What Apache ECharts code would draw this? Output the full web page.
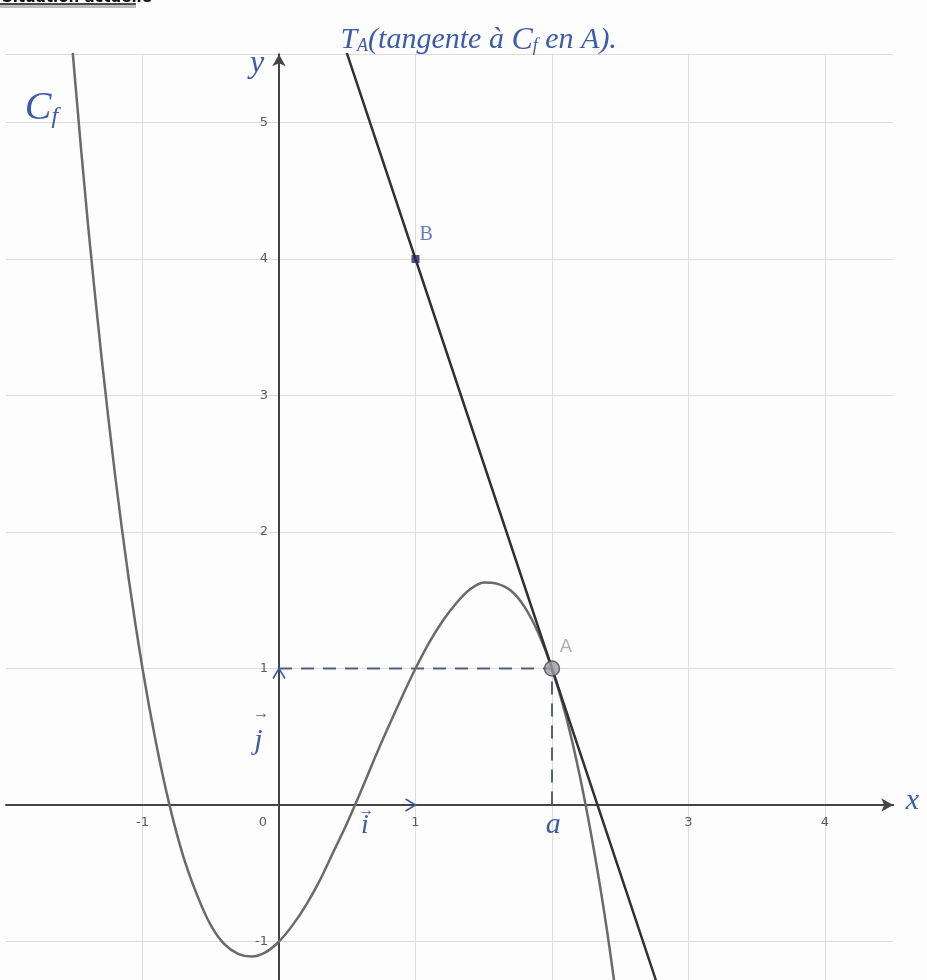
<!DOCTYPE html>
<html>
<head>
<meta charset="utf-8">
<script src="https://cdn.jsdelivr.net/npm/echarts@6/dist/echarts.min.js"></script>
<style>
  html, body { margin: 0; padding: 0; background: #fdfdfd; }
  #main { width: 927px; height: 980px; }
</style>
</head>
<body>
<div id="main"></div>
<script>
// courbe Cf (x, y)
var curveX = [-1.6, -1.5, -1.4, -1.3, -1.2, -1.1, -1.0, -0.9, -0.8, -0.7, -0.6, -0.5, -0.4, -0.3, -0.2, -0.1,
  0, 0.1, 0.2, 0.3, 0.4, 0.5, 0.6, 0.7, 0.8, 0.9, 1.0, 1.1, 1.2, 1.3, 1.4, 1.5, 1.6, 1.7, 1.8, 1.9,
  2.0, 2.1, 2.2, 2.3, 2.4, 2.5, 2.6];
var curveY = [6.62, 5.38, 4.26, 3.28, 2.41, 1.65, 1.0, 0.45, -0.01, -0.38, -0.66, -0.88, -1.02, -1.09, -1.11, -1.08,
  -1.0, -0.88, -0.73, -0.55, -0.34, -0.13, 0.10, 0.34, 0.57, 0.79, 1.0, 1.19, 1.35, 1.48, 1.58, 1.63, 1.62, 1.57, 1.45, 1.26,
  1.0, 0.66, 0.23, -0.29, -0.90, -1.63, -2.46];
// tangente TA
var tangentX = [0.3, 1, 2, 3];
var tangentY = [6.1, 4, 1, -2];
var pointA = [2, 1];
var pointB = [1, 4];
// graduations écrites (2 est remplacé par "a")
var xLabels = [-1, 0, 1, 3, 4];
var yLabels = [-1, 1, 2, 3, 4, 5];

var ink = '#3d5ba6';
var unit = 136.5;

function zip(xs, ys) {
  var out = [];
  for (var i = 0; i < xs.length; i++) out.push([xs[i], ys[i]]);
  return out;
}

var chart = echarts.init(document.getElementById('main'));

var option = {
  backgroundColor: '#fdfdfd',
  animation: false,
  grid: {
    left: 279 - 2 * unit,
    top: 805 - 5.5 * unit,
    width: 6.5 * unit,
    height: 7.5 * unit,
    outerBoundsMode: 'none',
    containLabel: false
  },
  xAxis: {
    type: 'value',
    min: -2,
    max: 4.5,
    interval: 1,
    axisLine: {
      onZero: true,
      symbol: ['none', 'arrow'],
      symbolSize: [10, 12],
      lineStyle: { color: '#444', width: 2 }
    },
    axisTick: { show: false },
    axisLabel: { show: false },
    splitLine: { show: true, showMinLine: false, showMaxLine: false, lineStyle: { color: '#dcdcdc', width: 1 } }
  },
  yAxis: {
    type: 'value',
    min: -2,
    max: 5.5,
    interval: 1,
    axisLine: {
      onZero: true,
      symbol: ['none', 'arrow'],
      symbolSize: [10, 12],
      lineStyle: { color: '#444', width: 2 }
    },
    axisTick: { show: false },
    axisLabel: { show: false },
    splitLine: { show: true, lineStyle: { color: '#dcdcdc', width: 1 } }
  },
  series: [
    {
      name: 'Cf',
      type: 'line',
      data: zip(curveX, curveY),
      smooth: 0.3,
      showSymbol: false,
      lineStyle: { color: '#6a6a6a', width: 2.5 },
      z: 3
    },
    {
      name: 'TA',
      type: 'line',
      data: zip(tangentX, tangentY),
      showSymbol: false,
      lineStyle: { color: '#333', width: 2.5 },
      z: 4
    },
    {
      name: 'pointilles',
      type: 'line',
      data: [[0, pointA[1]], pointA, [pointA[0], 0]],
      showSymbol: false,
      lineStyle: { color: '#55607a', width: 2, type: [13, 9] },
      z: 2
    },
    {
      name: 'A',
      type: 'scatter',
      data: [pointA],
      symbol: 'circle',
      symbolSize: 15,
      itemStyle: { color: '#9c9ea4', borderColor: '#4a4a4a', borderWidth: 1.5 },
      label: {
        show: true,
        formatter: 'A',
        position: [16, -22],
        color: '#9a9a9a',
        fontSize: 18,
        fontFamily: 'DejaVu Sans'
      },
      z: 6
    },
    {
      name: 'B',
      type: 'scatter',
      data: [pointB],
      symbol: 'rect',
      symbolSize: 8,
      itemStyle: { color: '#1f2a5c' },
      label: {
        show: true,
        formatter: 'B',
        position: [8, -30],
        color: ink,
        fontSize: 20,
        fontFamily: 'Liberation Serif'
      },
      z: 6
    }
  ]
};

chart.setOption(option);

function px(x, y) {
  return chart.convertToPixel({ gridIndex: 0 }, [x, y]);
}

function txt(x, y, text, size, extra) {
  var p = px(x, y);
  var style = {
    text: text,
    fill: ink,
    fontSize: size,
    fontFamily: 'Liberation Serif',
    fontStyle: 'italic',
    align: 'center',
    verticalAlign: 'middle',
    textAlign: 'center',
    textVerticalAlign: 'middle'
  };
  for (var k in extra) style[k] = extra[k];
  return { type: 'text', x: p[0], y: p[1], z: 20, style: style };
}

function tickText(p, text, align) {
  return {
    type: 'text', x: p[0], y: p[1], z: 15,
    style: {
      text: text, fill: '#5a5a5a', fontSize: 13, fontFamily: 'DejaVu Sans',
      align: align, verticalAlign: 'middle', textAlign: align, textVerticalAlign: 'middle'
    }
  };
}

var graphics = [];

// graduations des axes
xLabels.forEach(function (v) {
  var p = px(v, 0);
  var dx = v === 0 ? -16 : 0;
  graphics.push(tickText([p[0] + dx, p[1] + 18], String(v), 'center'));
});
yLabels.forEach(function (v) {
  var p = px(0, v);
  graphics.push(tickText([p[0] - 11, p[1]], String(v), 'right'));
});

var pi = px(1, 0), pj = px(0, 1);
graphics = graphics.concat([
  // titre coupé en haut
  { type: 'text', x: 2, y: -9, z: 20,
    style: { text: 'Situation actuelle', fill: '#111', fontSize: 15, fontWeight: 'bold', fontFamily: 'DejaVu Sans',
      verticalAlign: 'top', textVerticalAlign: 'top' } },
  { type: 'rect', shape: { x: 0, y: 5, width: 136, height: 3 }, style: { fill: '#bdbdbd' }, z: 19 },
  { type: 'line', shape: { x1: 0, y1: 4, x2: 136, y2: 4 }, style: { stroke: '#111', lineWidth: 1.5 }, z: 20 },
  txt(-0.16, 5.43, 'y', 32),
  txt(4.64, 0.03, 'x', 30),
  txt(-1.74, 5.1, '{c|C}{s|f}', 36, {
    rich: {
      c: { fontSize: 40, fontStyle: 'italic', fontFamily: 'Liberation Serif', fill: ink },
      s: { fontSize: 24, fontStyle: 'italic', fontFamily: 'Liberation Serif', fill: ink, padding: [16, 0, 0, 0] }
    }
  }),
  txt(0.45, 5.6, '{t|T}{s|A}{t|(tangente à }{c|C}{s|f}{t| en A).}', 30, {
    align: 'left', textAlign: 'left',
    rich: {
      t: { fontSize: 30, fontStyle: 'italic', fontFamily: 'Liberation Serif', fill: ink },
      c: { fontSize: 32, fontStyle: 'italic', fontFamily: 'Liberation Serif', fill: ink },
      s: { fontSize: 18, fontStyle: 'italic', fontFamily: 'Liberation Serif', fill: ink, padding: [12, 0, 0, 0] }
    }
  }),
  txt(2.01, -0.15, 'a', 30),
  txt(0.63, -0.15, 'i', 28),
  txt(0.64, -0.04, '→', 16, { fontStyle: 'normal' }),
  txt(-0.15, 0.47, 'j', 30),
  txt(-0.13, 0.67, '→', 16, { fontStyle: 'normal' }),
  { type: 'polyline', z: 20,
    shape: { points: [[pi[0] - 10, pi[1] - 6], [pi[0], pi[1]], [pi[0] - 10, pi[1] + 6]] },
    style: { stroke: ink, lineWidth: 1.6, fill: null } },
  { type: 'polyline', z: 20,
    shape: { points: [[pj[0] - 6, pj[1] + 10], [pj[0], pj[1]], [pj[0] + 6, pj[1] + 10]] },
    style: { stroke: ink, lineWidth: 1.6, fill: null } }
]);

chart.setOption({ graphic: graphics });
</script>
</body>
</html>
